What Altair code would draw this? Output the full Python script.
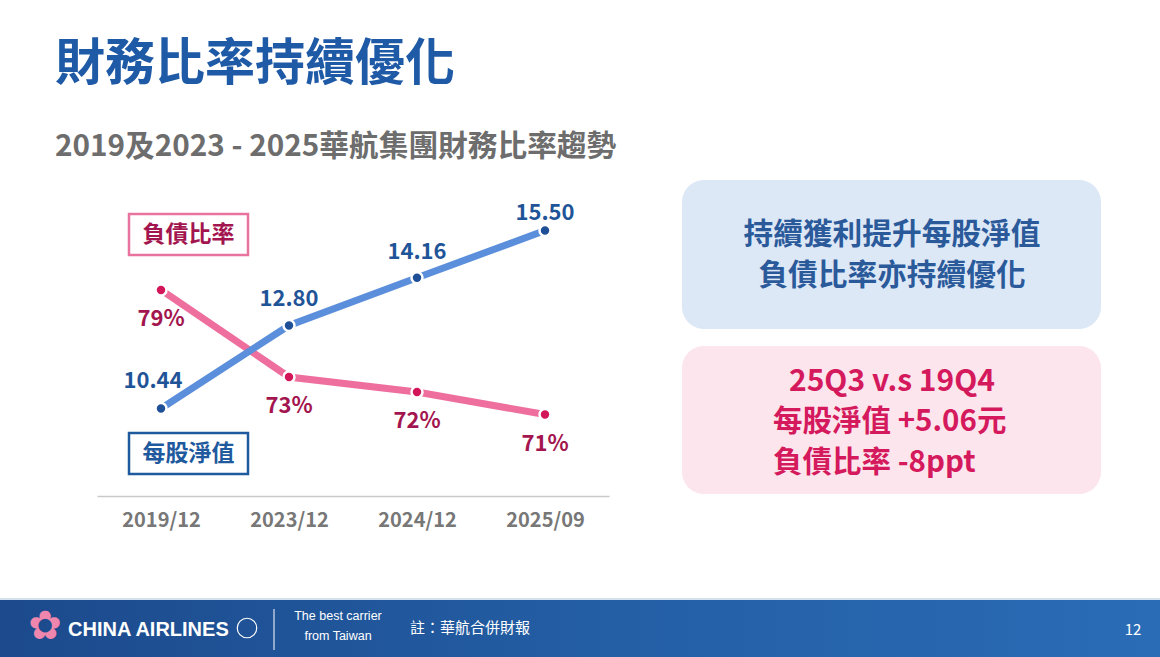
import altair as alt
import pandas as pd

# ---------------- data ----------------
periods = ["2019/12", "2023/12", "2024/12", "2025/09"]
bvps = [10.44, 12.80, 14.16, 15.50]          # 每股淨值 (元)
debt_ratio = [79.0, 73.2, 72.2, 70.7]         # 負債比率 (%)

title_text = "財務比率持續優化"
subtitle_text = "2019及2023 - 2025華航集團財務比率趨勢"
debt_name = "負債比率"
bvps_name = "每股淨值"
box1_lines = ["持續獲利提升每股淨值", "負債比率亦持續優化"]
box2_lines = ["25Q3 v.s 19Q4", "每股淨值 +5.06元", "負債比率  -8ppt"]
footer_note = "註：華航合併財報"
page_no = "12"

# ---------------- layout ----------------
W, H = 1160, 657
OX, OY = 97, 213          # plot-area origin
PW, PH = 512, 283         # plot-area size
CJK = "Noto Sans CJK TC"


def AX(x):
    return x - OX


def AY(y):
    return y - OY


df = pd.DataFrame({"period": periods, "bvps": bvps, "debt": debt_ratio,
                   "idx": list(range(len(periods)))})
base = alt.Chart(df)

x_enc = alt.X(
    "period:N", sort=periods,
    scale=alt.Scale(type="point", padding=0.5),
    axis=alt.Axis(title=None, labelAngle=0, ticks=False, grid=False,
                  domainColor="#c9c9c9", domainWidth=1.5,
                  labelColor="#777777", labelFontSize=20, labelFontWeight="bold",
                  labelFont=CJK, labelPadding=14),
)
blue_y = alt.Y("bvps:Q", scale=alt.Scale(domain=[7.95, 16.0], zero=False, nice=False), axis=None)
pink_y = alt.Y("debt:Q", scale=alt.Scale(domain=[65.27, 84.13], zero=False, nice=False), axis=None)

BLUE_LINE, BLUE_PT, BLUE_TXT = "#5b8fdb", "#1f4f97", "#1f5598"
PINK_LINE, PINK_PT, PINK_TXT = "#ee6f9d", "#d3165a", "#a3154e"

pink_line = base.mark_line(color=PINK_LINE, strokeWidth=7).encode(x=x_enc, y=pink_y)
blue_line = base.mark_line(color=BLUE_LINE, strokeWidth=7).encode(x=x_enc, y=blue_y)
pink_pts = base.mark_circle(size=120, color=PINK_PT, stroke="white", strokeWidth=2.5, opacity=1).encode(x=x_enc, y=pink_y)
blue_pts = base.mark_circle(size=120, color=BLUE_PT, stroke="white", strokeWidth=2.5, opacity=1).encode(x=x_enc, y=blue_y)


def blue_label(cond, dx, dy):
    return (base.transform_filter(cond)
            .transform_calculate(lbl="format(datum.bvps, '.2f')")
            .mark_text(dx=dx, dy=dy, font=CJK, fontSize=22, fontWeight="bold",
                       color=BLUE_TXT, baseline="middle", align="center")
            .encode(x=x_enc, y=blue_y, text="lbl:N"))


blue_lbl0 = blue_label("datum.idx == 0", -8, -27)
blue_lbl1 = blue_label("datum.idx == 1 || datum.idx == 2", 0, -26)
blue_lbl3 = blue_label("datum.idx == 3", 0, -18)

pink_lbl = (base.transform_calculate(lbl="format(datum.debt, '.0f') + '%'")
            .mark_text(dy=29, font=CJK, fontSize=22, fontWeight="bold",
                       color=PINK_TXT, baseline="middle", align="center")
            .encode(x=x_enc, y=pink_y, text="lbl:N"))

# ---------------- decorations ----------------
deco = alt.Chart(alt.Data(values=[{"k": 0}]))


def txt(s, x, y, size, color, weight="bold", align="center", font=CJK):
    return deco.mark_text(text=s, fontSize=size, color=color, fontWeight=weight,
                          align=align, baseline="middle", font=font).encode(
        x=alt.value(AX(x)), y=alt.value(AY(y)))


def box(x1, y1, x2, y2, **kw):
    return deco.mark_rect(**kw).encode(
        x=alt.value(AX(x1)), x2=alt.value(AX(x2)),
        y=alt.value(AY(y1)), y2=alt.value(AY(y2)))


layers = []
# title + subtitle
layers.append(txt(title_text, 55, 65, 50, "#1f5aa6", align="left"))
layers.append(txt(subtitle_text, 55, 147, 29.7, "#6d6d6d", align="left"))

# legend boxes inside chart
layers.append(box(129, 214, 248, 255, fill="white", stroke="#e9739f", strokeWidth=2.5))
layers.append(txt(debt_name, 188.5, 234.5, 23, PINK_TXT))
layers.append(box(129, 433, 248, 474, fill="white", stroke="#1f5a9e", strokeWidth=2.5))
layers.append(txt(bvps_name, 188.5, 453.5, 23, "#1f5a9e"))

# right info boxes
layers.append(box(682, 180, 1101, 329, fill="#dde8f7", cornerRadius=22))
layers.append(txt(box1_lines[0], 892, 235, 29.7, "#2b5a9b"))
layers.append(txt(box1_lines[1], 892, 276, 29.7, "#2b5a9b"))
layers.append(box(682, 346, 1101, 494, fill="#fde5ee", cornerRadius=22))
layers.append(txt(box2_lines[0], 892, 382, 30, "#d4195c"))
layers.append(txt(box2_lines[1], 773, 422, 29.5, "#d4195c", align="left"))
layers.append(txt(box2_lines[2], 773, 463, 29.5, "#d4195c", align="left"))

# footer band
grad = alt.LinearGradient(
    gradient="linear", x1=0, x2=1, y1=0, y2=0,
    stops=[alt.GradientStop(offset=0, color="#1c4a8c"),
           alt.GradientStop(offset=0.55, color="#245fa6"),
           alt.GradientStop(offset=1, color="#2a6cb6")])
layers.append(box(0, 599, W, H, fill=grad))
layers.append(box(0, 598, W, 600, fill="#d6e1ee"))
layers.append(txt("✿", 45, 627, 40, "#ee86ad", weight="normal", font="DejaVu Sans"))
layers.append(txt("CHINA AIRLINES", 68, 630, 20, "white", align="left", font="Liberation Sans"))
layers.append(deco.mark_point(shape="circle", filled=False, size=380, stroke="white",
                              strokeWidth=1.2, opacity=1).encode(
    x=alt.value(AX(247)), y=alt.value(AY(628))))
layers.append(deco.mark_rule(color="white", strokeWidth=1).encode(
    x=alt.value(AX(274)), y=alt.value(AY(609)), y2=alt.value(AY(650))))
layers.append(txt("The best carrier", 338, 616, 12.5, "white", weight="normal", font="Liberation Sans"))
layers.append(txt("from Taiwan", 338, 636, 12.5, "white", weight="normal", font="Liberation Sans"))
layers.append(txt(footer_note, 410, 628, 15, "white", weight="normal", align="left"))
layers.append(txt(page_no, 1133, 630, 15, "white", weight="normal"))

chart = alt.layer(
    *layers,
    pink_line, blue_line, pink_pts, blue_pts,
    blue_lbl0, blue_lbl1, blue_lbl3, pink_lbl,
).resolve_scale(y="independent").properties(
    width=PW, height=PH,
    padding={"left": OX, "top": OY, "right": W - OX - PW, "bottom": H - OY - PH},
    autosize=alt.AutoSizeParams(type="none"),
    background="white",
).configure_view(stroke=None)

chart.save("out.html", embed_options={"renderer": "svg", "actions": False})
